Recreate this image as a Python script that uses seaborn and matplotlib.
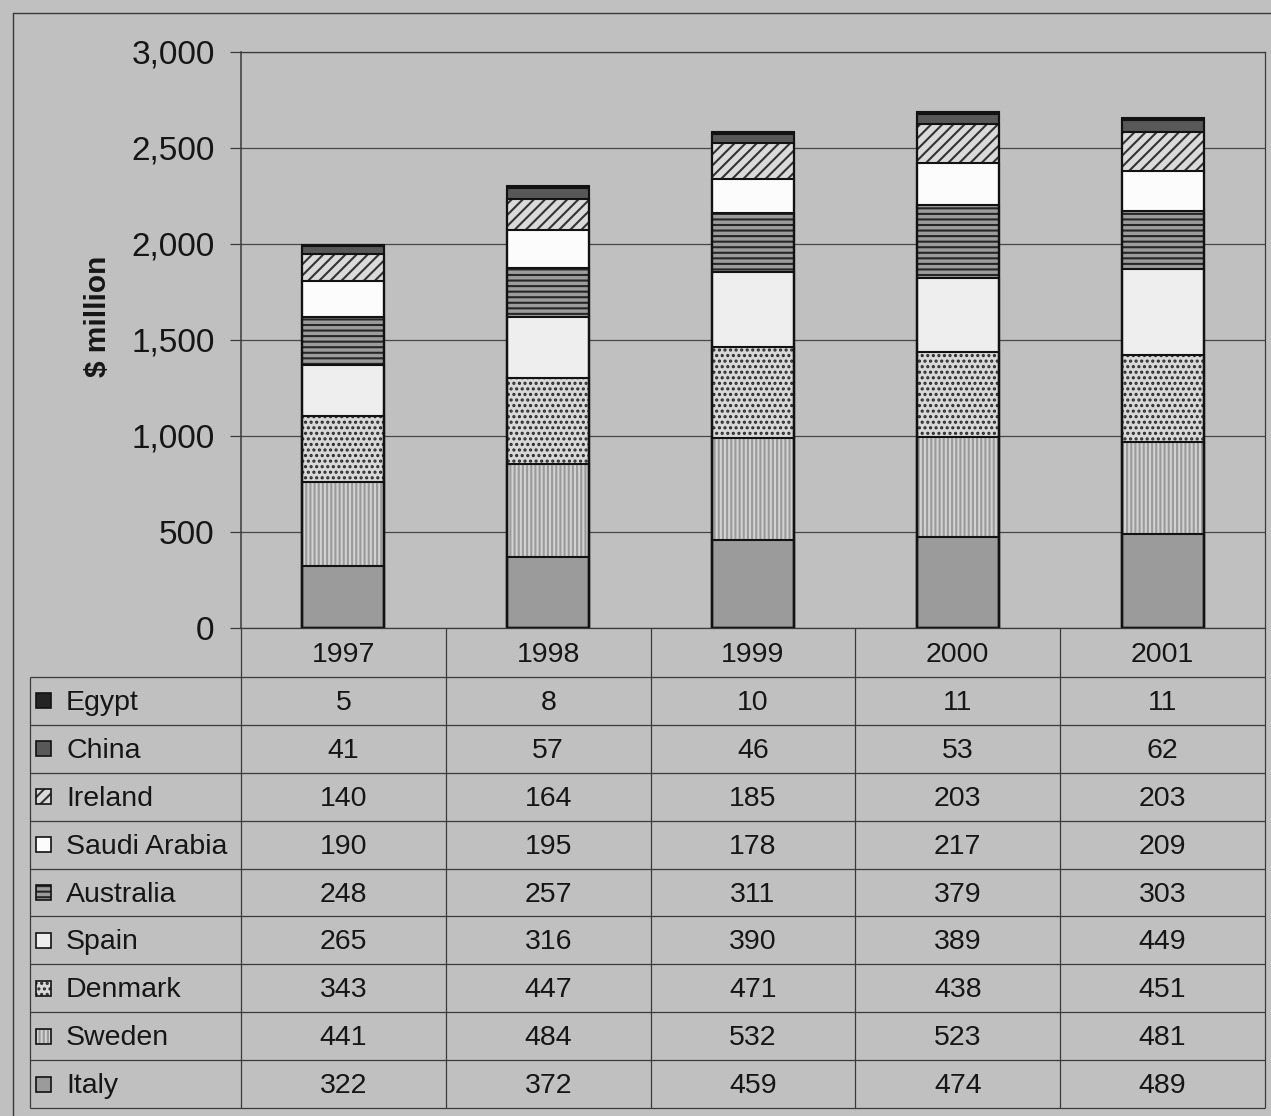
import numpy as np
import pandas as pd
import matplotlib
matplotlib.use("Agg")
import matplotlib.pyplot as plt
from matplotlib.patches import Rectangle
from matplotlib.ticker import FuncFormatter, MultipleLocator
import seaborn as sns

# ---- data ($ million) ----
years = ["1997", "1998", "1999", "2000", "2001"]
egypt = [5, 8, 10, 11, 11]
china = [41, 57, 46, 53, 62]
ireland = [140, 164, 185, 203, 203]
saudi_arabia = [190, 195, 178, 217, 209]
australia = [248, 257, 311, 379, 303]
spain = [265, 316, 390, 389, 449]
denmark = [343, 447, 471, 438, 451]
sweden = [441, 484, 532, 523, 481]
italy = [322, 372, 459, 474, 489]

# stacking order, bottom segment first
countries = ["Italy", "Sweden", "Denmark", "Spain", "Australia",
             "Saudi Arabia", "Ireland", "China", "Egypt"]
series = [italy, sweden, denmark, spain, australia,
          saudi_arabia, ireland, china, egypt]

# ---- styling ----
BG = "#c0c0c0"
INK = "#161616"
LINE = "#3a3a3a"
styles = {
    "Italy":        dict(face="#9b9b9b", hatch=None,   hc="#9b9b9b"),
    "Sweden":       dict(face="#d2d2d2", hatch="||||", hc="#9a9a9a"),
    "Denmark":      dict(face="#d8d8d8", hatch="...",  hc="#2a2a2a"),
    "Spain":        dict(face="#eeeeee", hatch=None,   hc="#eeeeee"),
    "Australia":    dict(face="#9c9c9c", hatch="---",  hc="#262626"),
    "Saudi Arabia": dict(face="#fcfcfc", hatch=None,   hc="#fcfcfc"),
    "Ireland":      dict(face="#dadada", hatch="///",  hc="#333333"),
    "China":        dict(face="#585858", hatch=None,   hc="#585858"),
    "Egypt":        dict(face="#242424", hatch=None,   hc="#242424"),
}

sns.set_style("white")
plt.rcParams["font.family"] = ["Liberation Sans", "DejaVu Sans"]
plt.rcParams["hatch.linewidth"] = 1.5
plt.rcParams["text.color"] = INK
plt.rcParams["axes.labelcolor"] = INK
plt.rcParams["ytick.color"] = INK

# long table with cumulative tops for stacking
rows = []
for c, vals in zip(countries, series):
    for y, v in zip(years, vals):
        rows.append({"year": y, "country": c, "value": v})
df = pd.DataFrame(rows)
df["country"] = pd.Categorical(df["country"], categories=countries, ordered=True)
df = df.sort_values(["year", "country"])
df["top"] = df.groupby("year")["value"].cumsum()

W, H = 1271, 1116
fig = plt.figure(figsize=(W / 100, H / 100), dpi=100, facecolor=BG)

X_LEFT, X_AXIS, X_RIGHT = 30, 241, 1265
Y_TOP, Y_ZERO, Y_HEAD, Y_BOT = 52, 628, 677, 1108

ax = fig.add_axes([X_AXIS / W, 1 - Y_ZERO / H,
                   (X_RIGHT - X_AXIS) / W, (Y_ZERO - Y_TOP) / H])
ax.set_facecolor(BG)

BAR_W = 0.4
# filled/hatched segments: tallest cumulative first, later ones cover the lower part
for c in reversed(countries):
    st = styles[c]
    sub = df[df["country"] == c]
    sns.barplot(data=sub, x="year", y="top", order=years, color=st["face"],
                saturation=1, width=BAR_W, hatch=st["hatch"],
                edgecolor=st["hc"], linewidth=0, errorbar=None, ax=ax)
# segment outlines
for c in reversed(countries):
    sub = df[df["country"] == c]
    sns.barplot(data=sub, x="year", y="top", order=years, fill=False,
                color="#121212", linewidth=1.5, width=BAR_W,
                errorbar=None, ax=ax)

ax.set_xlim(-0.5, len(years) - 0.5)
ax.set_ylim(0, 3000)
ax.set_xticks([])
ax.set_xlabel("")
ax.set_ylabel("")
ax.yaxis.set_major_locator(MultipleLocator(500))
ax.yaxis.set_major_formatter(FuncFormatter(lambda v, p: f"{int(v):,}"))
ax.yaxis.grid(True, color="#484848", linewidth=0.9)
ax.set_axisbelow(True)
for s in ax.spines.values():
    s.set_visible(True)
    s.set_color(LINE)
    s.set_linewidth(0.9)
ax.spines["left"].set_linewidth(1.1)
ax.tick_params(axis="y", length=8, width=0.9, color=LINE, pad=11,
               labelsize=24, direction="out", left=True)

# ---- overlay for the data table, labels and frame (pixel coordinates) ----
tax = fig.add_axes([0, 0, 1, 1], facecolor="none")
tax.set_xlim(0, W)
tax.set_ylim(H, 0)
tax.axis("off")

def hline(y, x0, x1, lw=0.9):
    tax.plot([x0, x1], [y, y], color=LINE, lw=lw, solid_capstyle="butt")

def vline(x, y0, y1, lw=0.9):
    tax.plot([x, x], [y0, y1], color=LINE, lw=lw, solid_capstyle="butt")

col_edges = np.linspace(X_AXIS, X_RIGHT, len(years) + 1)
row_edges = np.linspace(Y_HEAD, Y_BOT, len(countries) + 1)

# grid of the table
for y in row_edges:
    hline(y, X_LEFT, X_RIGHT)
vline(X_LEFT, Y_HEAD, Y_BOT)
for x in col_edges:
    vline(x, Y_ZERO, Y_BOT)

# year headers
for i, yr in enumerate(years):
    xc = (col_edges[i] + col_edges[i + 1]) / 2
    tax.text(xc, (Y_ZERO + Y_HEAD) / 2 + 2, yr, ha="center", va="center",
             fontsize=20.5, color=INK)

# legend keys and values, top row = top of stack
for r, c in enumerate(reversed(countries)):
    vals = series[countries.index(c)]
    yc = (row_edges[r] + row_edges[r + 1]) / 2
    st = styles[c]
    sw = 15
    tax.add_patch(Rectangle((36, yc - sw / 2), sw, sw, facecolor=st["face"],
                            hatch=st["hatch"], edgecolor=st["hc"], linewidth=0))
    tax.add_patch(Rectangle((36, yc - sw / 2), sw, sw, facecolor="none",
                            edgecolor="#121212", linewidth=1.2))
    tax.text(66, yc + 2, c, ha="left", va="center", fontsize=20.5, color=INK)
    for i, v in enumerate(vals):
        xc = (col_edges[i] + col_edges[i + 1]) / 2
        tax.text(xc, yc + 2, f"{v:,}", ha="center", va="center",
                 fontsize=20.5, color=INK)

# axis title
tax.text(98, 316, r"\$ million", rotation=90, ha="center", va="center",
         fontsize=21.5, fontweight="bold", color=INK)

# chart frame
tax.plot([13, 13], [H, 13], color=LINE, lw=1.0)
tax.plot([13, W], [13, 13], color=LINE, lw=1.0)

fig.savefig("out.png", dpi=100, facecolor=BG)
